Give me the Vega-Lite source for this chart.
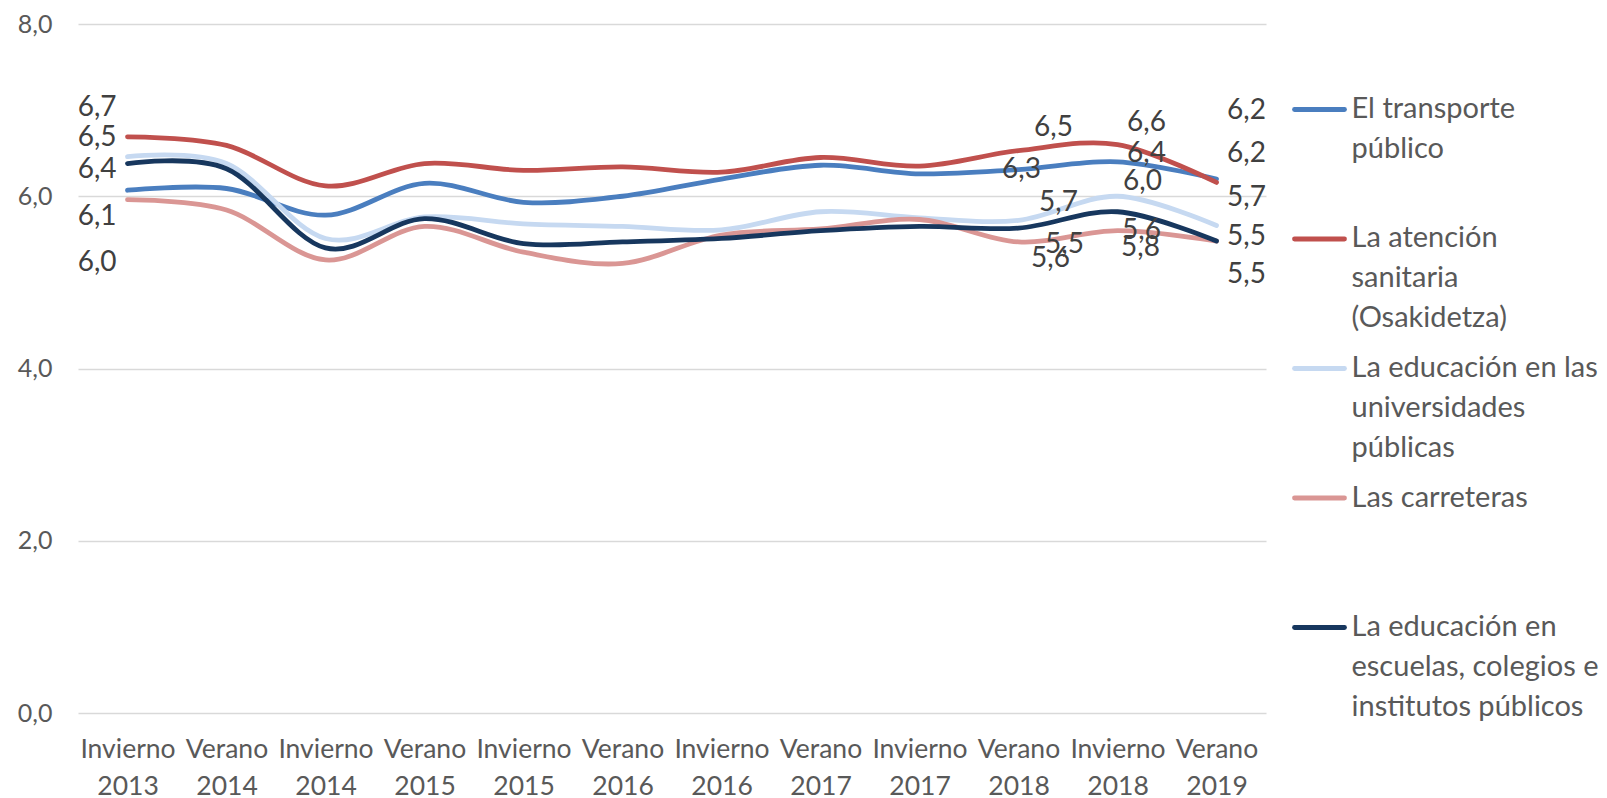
{
  "$schema": "https://vega.github.io/schema/vega-lite/v6.json",
  "padding": {"left": 17, "top": 12, "right": 0, "bottom": 0},
  "autosize": {"type": "pad"},
  "bounds": "flush",
  "spacing": 0,
  "config": {
    "view": {"stroke": null},
    "font": "Lato",
    "locale": {"number": {"decimal": ",", "thousands": ".", "grouping": [3], "currency": ["", " €"]}},
    "text": {"fontSize": 28, "color": "#404040", "baseline": "middle", "font": "Lato"}
  },
  "datasets": {
    "valores": [
      {"serie": "El transporte público", "periodo": "Invierno 2013", "valor": 6.07},
      {"serie": "El transporte público", "periodo": "Verano 2014", "valor": 6.09},
      {"serie": "El transporte público", "periodo": "Invierno 2014", "valor": 5.78},
      {"serie": "El transporte público", "periodo": "Verano 2015", "valor": 6.15},
      {"serie": "El transporte público", "periodo": "Invierno 2015", "valor": 5.93},
      {"serie": "El transporte público", "periodo": "Verano 2016", "valor": 6.0},
      {"serie": "El transporte público", "periodo": "Invierno 2016", "valor": 6.2},
      {"serie": "El transporte público", "periodo": "Verano 2017", "valor": 6.36},
      {"serie": "El transporte público", "periodo": "Invierno 2017", "valor": 6.26},
      {"serie": "El transporte público", "periodo": "Verano 2018", "valor": 6.31},
      {"serie": "El transporte público", "periodo": "Invierno 2018", "valor": 6.4},
      {"serie": "El transporte público", "periodo": "Verano 2019", "valor": 6.2},
      {"serie": "La atención sanitaria (Osakidetza)", "periodo": "Invierno 2013", "valor": 6.69},
      {"serie": "La atención sanitaria (Osakidetza)", "periodo": "Verano 2014", "valor": 6.59},
      {"serie": "La atención sanitaria (Osakidetza)", "periodo": "Invierno 2014", "valor": 6.12},
      {"serie": "La atención sanitaria (Osakidetza)", "periodo": "Verano 2015", "valor": 6.38},
      {"serie": "La atención sanitaria (Osakidetza)", "periodo": "Invierno 2015", "valor": 6.3},
      {"serie": "La atención sanitaria (Osakidetza)", "periodo": "Verano 2016", "valor": 6.34},
      {"serie": "La atención sanitaria (Osakidetza)", "periodo": "Invierno 2016", "valor": 6.28},
      {"serie": "La atención sanitaria (Osakidetza)", "periodo": "Verano 2017", "valor": 6.45},
      {"serie": "La atención sanitaria (Osakidetza)", "periodo": "Invierno 2017", "valor": 6.35},
      {"serie": "La atención sanitaria (Osakidetza)", "periodo": "Verano 2018", "valor": 6.53},
      {"serie": "La atención sanitaria (Osakidetza)", "periodo": "Invierno 2018", "valor": 6.6},
      {"serie": "La atención sanitaria (Osakidetza)", "periodo": "Verano 2019", "valor": 6.16},
      {"serie": "La educación en las universidades públicas", "periodo": "Invierno 2013", "valor": 6.46},
      {"serie": "La educación en las universidades públicas", "periodo": "Verano 2014", "valor": 6.38},
      {"serie": "La educación en las universidades públicas", "periodo": "Invierno 2014", "valor": 5.51},
      {"serie": "La educación en las universidades públicas", "periodo": "Verano 2015", "valor": 5.76},
      {"serie": "La educación en las universidades públicas", "periodo": "Invierno 2015", "valor": 5.68},
      {"serie": "La educación en las universidades públicas", "periodo": "Verano 2016", "valor": 5.65},
      {"serie": "La educación en las universidades públicas", "periodo": "Invierno 2016", "valor": 5.61},
      {"serie": "La educación en las universidades públicas", "periodo": "Verano 2017", "valor": 5.82},
      {"serie": "La educación en las universidades públicas", "periodo": "Invierno 2017", "valor": 5.75},
      {"serie": "La educación en las universidades públicas", "periodo": "Verano 2018", "valor": 5.72},
      {"serie": "La educación en las universidades públicas", "periodo": "Invierno 2018", "valor": 6.0},
      {"serie": "La educación en las universidades públicas", "periodo": "Verano 2019", "valor": 5.66},
      {"serie": "Las carreteras", "periodo": "Invierno 2013", "valor": 5.96},
      {"serie": "Las carreteras", "periodo": "Verano 2014", "valor": 5.84},
      {"serie": "Las carreteras", "periodo": "Invierno 2014", "valor": 5.26},
      {"serie": "Las carreteras", "periodo": "Verano 2015", "valor": 5.65},
      {"serie": "Las carreteras", "periodo": "Invierno 2015", "valor": 5.35},
      {"serie": "Las carreteras", "periodo": "Verano 2016", "valor": 5.22},
      {"serie": "Las carreteras", "periodo": "Invierno 2016", "valor": 5.55},
      {"serie": "Las carreteras", "periodo": "Verano 2017", "valor": 5.62},
      {"serie": "Las carreteras", "periodo": "Invierno 2017", "valor": 5.73},
      {"serie": "Las carreteras", "periodo": "Verano 2018", "valor": 5.47},
      {"serie": "Las carreteras", "periodo": "Invierno 2018", "valor": 5.6},
      {"serie": "Las carreteras", "periodo": "Verano 2019", "valor": 5.48},
      {"serie": "La educación en escuelas, colegios e institutos públicos", "periodo": "Invierno 2013", "valor": 6.38},
      {"serie": "La educación en escuelas, colegios e institutos públicos", "periodo": "Verano 2014", "valor": 6.32},
      {"serie": "La educación en escuelas, colegios e institutos públicos", "periodo": "Invierno 2014", "valor": 5.4},
      {"serie": "La educación en escuelas, colegios e institutos públicos", "periodo": "Verano 2015", "valor": 5.74},
      {"serie": "La educación en escuelas, colegios e institutos públicos", "periodo": "Invierno 2015", "valor": 5.45},
      {"serie": "La educación en escuelas, colegios e institutos públicos", "periodo": "Verano 2016", "valor": 5.47},
      {"serie": "La educación en escuelas, colegios e institutos públicos", "periodo": "Invierno 2016", "valor": 5.51},
      {"serie": "La educación en escuelas, colegios e institutos públicos", "periodo": "Verano 2017", "valor": 5.6},
      {"serie": "La educación en escuelas, colegios e institutos públicos", "periodo": "Invierno 2017", "valor": 5.65},
      {"serie": "La educación en escuelas, colegios e institutos públicos", "periodo": "Verano 2018", "valor": 5.63},
      {"serie": "La educación en escuelas, colegios e institutos públicos", "periodo": "Invierno 2018", "valor": 5.82},
      {"serie": "La educación en escuelas, colegios e institutos públicos", "periodo": "Verano 2019", "valor": 5.48}
    ],
    "leyenda": [
      {"serie": "El transporte público", "texto": "El transporte\npúblico"},
      {"serie": "La atención sanitaria (Osakidetza)", "texto": "La atención\nsanitaria\n(Osakidetza)"},
      {"serie": "La educación en las universidades públicas", "texto": "La educación en las\nuniversidades\npúblicas"},
      {"serie": "Las carreteras", "texto": "Las carreteras"},
      {"serie": "La educación en escuelas, colegios e institutos públicos", "texto": "La educación en\nescuelas, colegios e\ninstitutos públicos"}
    ]
  },
  "hconcat": [
    {
      "width": 1188,
      "height": 689,
      "data": {"name": "valores"},
      "encoding": {
        "x": {
          "field": "periodo", "type": "ordinal", "sort": null, "title": null,
          "axis": {"labelAngle": 0, "labelExpr": "split(datum.label, ' ')", "labelLineHeight": 37, "labelFontSize": 26.5, "labelColor": "#595959", "labelPadding": 23, "ticks": false, "domain": false, "grid": false, "labelOverlap": false, "labelBound": false, "labelFont": "Lato"}
        },
        "y": {
          "field": "valor", "type": "quantitative", "title": null,
          "scale": {"domain": [0, 8], "nice": false, "zero": true},
          "axis": {"values": [0, 2, 4, 6, 8], "format": ".1f", "grid": true, "gridColor": "#d9d9d9", "gridWidth": 1.5, "domain": false, "ticks": false, "labelPadding": 26, "labelFontSize": 25, "labelColor": "#595959", "labelFont": "Lato"}
        }
      },
      "layer": [
        {
          "mark": {"type": "line", "interpolate": "cardinal", "tension": 0, "strokeWidth": 4.8, "strokeCap": "round"},
          "encoding": {
            "color": {"field": "serie", "type": "nominal", "sort": null, "legend": null,
              "scale": {"domain": ["El transporte público", "La atención sanitaria (Osakidetza)", "La educación en las universidades públicas", "Las carreteras", "La educación en escuelas, colegios e institutos públicos"],
                        "range": ["#4a7ebf", "#c0504d", "#c6d9f1", "#da9694", "#17375e"]}}
          }
        },
        {"transform": [{"filter": "datum.periodo === 'Invierno 2013' && datum.serie === 'La atención sanitaria (Osakidetza)'"}], "mark": {"type": "text", "align": "right", "dx": -11, "dy": -29}, "encoding": {"text": {"field": "valor", "type": "quantitative", "format": ".1f"}}},
        {"transform": [{"filter": "datum.periodo === 'Invierno 2013' && datum.serie === 'La educación en las universidades públicas'"}], "mark": {"type": "text", "align": "right", "dx": -11, "dy": -19}, "encoding": {"text": {"field": "valor", "type": "quantitative", "format": ".1f"}}},
        {"transform": [{"filter": "datum.periodo === 'Invierno 2013' && datum.serie === 'La educación en escuelas, colegios e institutos públicos'"}], "mark": {"type": "text", "align": "right", "dx": -11, "dy": 6}, "encoding": {"text": {"field": "valor", "type": "quantitative", "format": ".1f"}}},
        {"transform": [{"filter": "datum.periodo === 'Invierno 2013' && datum.serie === 'El transporte público'"}], "mark": {"type": "text", "align": "right", "dx": -11, "dy": 27}, "encoding": {"text": {"field": "valor", "type": "quantitative", "format": ".1f"}}},
        {"transform": [{"filter": "datum.periodo === 'Invierno 2013' && datum.serie === 'Las carreteras'"}], "mark": {"type": "text", "align": "right", "dx": -11, "dy": 63}, "encoding": {"text": {"field": "valor", "type": "quantitative", "format": ".1f"}}},

        {"transform": [{"filter": "datum.periodo === 'Verano 2018' && datum.serie === 'La atención sanitaria (Osakidetza)'"}], "mark": {"type": "text", "align": "center", "dx": 35, "dy": -23}, "encoding": {"text": {"field": "valor", "type": "quantitative", "format": ".1f"}}},
        {"transform": [{"filter": "datum.periodo === 'Verano 2018' && datum.serie === 'El transporte público'"}], "mark": {"type": "text", "align": "center", "dx": 3, "dy": 0}, "encoding": {"text": {"field": "valor", "type": "quantitative", "format": ".1f"}}},
        {"transform": [{"filter": "datum.periodo === 'Verano 2018' && datum.serie === 'La educación en las universidades públicas'"}], "mark": {"type": "text", "align": "center", "dx": 40, "dy": -17}, "encoding": {"text": {"field": "valor", "type": "quantitative", "format": ".1f"}}},
        {"transform": [{"filter": "datum.periodo === 'Verano 2018' && datum.serie === 'Las carreteras'"}], "mark": {"type": "text", "align": "center", "dx": 46, "dy": 3}, "encoding": {"text": {"field": "valor", "type": "quantitative", "format": ".1f"}}},
        {"transform": [{"filter": "datum.periodo === 'Verano 2018' && datum.serie === 'La educación en escuelas, colegios e institutos públicos'"}], "mark": {"type": "text", "align": "center", "dx": 32, "dy": 31}, "encoding": {"text": {"field": "valor", "type": "quantitative", "format": ".1f"}}},

        {"transform": [{"filter": "datum.periodo === 'Invierno 2018' && datum.serie === 'La atención sanitaria (Osakidetza)'"}], "mark": {"type": "text", "align": "center", "dx": 29, "dy": -22}, "encoding": {"text": {"field": "valor", "type": "quantitative", "format": ".1f"}}},
        {"transform": [{"filter": "datum.periodo === 'Invierno 2018' && datum.serie === 'El transporte público'"}], "mark": {"type": "text", "align": "center", "dx": 29, "dy": -8}, "encoding": {"text": {"field": "valor", "type": "quantitative", "format": ".1f"}}},
        {"transform": [{"filter": "datum.periodo === 'Invierno 2018' && datum.serie === 'La educación en las universidades públicas'"}], "mark": {"type": "text", "align": "center", "dx": 25, "dy": -14}, "encoding": {"text": {"field": "valor", "type": "quantitative", "format": ".1f"}}},
        {"transform": [{"filter": "datum.periodo === 'Invierno 2018' && datum.serie === 'Las carreteras'"}], "mark": {"type": "text", "align": "center", "dx": 24, "dy": 0}, "encoding": {"text": {"field": "valor", "type": "quantitative", "format": ".1f"}}},
        {"transform": [{"filter": "datum.periodo === 'Invierno 2018' && datum.serie === 'La educación en escuelas, colegios e institutos públicos'"}], "mark": {"type": "text", "align": "center", "dx": 23, "dy": 36}, "encoding": {"text": {"field": "valor", "type": "quantitative", "format": ".1f"}}},

        {"transform": [{"filter": "datum.periodo === 'Verano 2019' && datum.serie === 'El transporte público'"}], "mark": {"type": "text", "align": "center", "dx": 30, "dy": -68}, "encoding": {"text": {"field": "valor", "type": "quantitative", "format": ".1f"}}},
        {"transform": [{"filter": "datum.periodo === 'Verano 2019' && datum.serie === 'La atención sanitaria (Osakidetza)'"}], "mark": {"type": "text", "align": "center", "dx": 30, "dy": -28}, "encoding": {"text": {"field": "valor", "type": "quantitative", "format": ".1f"}}},
        {"transform": [{"filter": "datum.periodo === 'Verano 2019' && datum.serie === 'La educación en las universidades públicas'"}], "mark": {"type": "text", "align": "center", "dx": 30, "dy": -28}, "encoding": {"text": {"field": "valor", "type": "quantitative", "format": ".1f"}}},
        {"transform": [{"filter": "datum.periodo === 'Verano 2019' && datum.serie === 'Las carreteras'"}], "mark": {"type": "text", "align": "center", "dx": 30, "dy": -4}, "encoding": {"text": {"field": "valor", "type": "quantitative", "format": ".1f"}}},
        {"transform": [{"filter": "datum.periodo === 'Verano 2019' && datum.serie === 'La educación en escuelas, colegios e institutos públicos'"}], "mark": {"type": "text", "align": "center", "dx": 30, "dy": 34}, "encoding": {"text": {"field": "valor", "type": "quantitative", "format": ".1f"}}}
      ]
    },
    {
      "width": 341,
      "height": 689,
      "data": {"name": "leyenda"},
      "encoding": {
        "y": {"field": "serie", "type": "nominal", "sort": null, "scale": {"type": "point", "padding": 0.66}, "axis": null}
      },
      "layer": [
        {
          "mark": {"type": "point", "shape": "stroke", "size": 2500, "filled": false, "strokeWidth": 4.8, "strokeCap": "round", "opacity": 1, "xOffset": -117},
          "encoding": {"color": {"field": "serie", "type": "nominal", "sort": null, "legend": null}}
        },
        {
          "mark": {"type": "text", "align": "left", "baseline": "top", "dx": -85, "dy": -14.5, "lineBreak": "\n", "lineHeight": 40, "fontSize": 29, "color": "#595959", "font": "Lato"},
          "encoding": {"text": {"field": "texto", "type": "nominal"}}
        }
      ]
    }
  ]
}
